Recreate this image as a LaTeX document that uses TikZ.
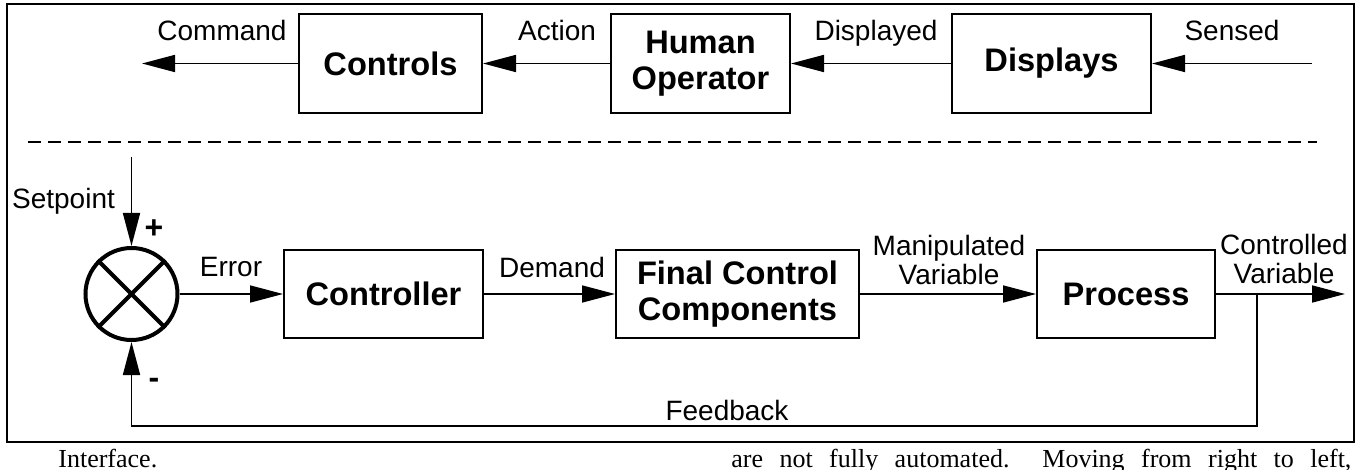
\documentclass[tikz,border=0pt]{standalone}
\usepackage{fontspec}
\setmainfont{Liberation Sans}
\newfontfamily\bodyserif{Liberation Serif}
\usetikzlibrary{arrows.meta}

\begin{document}
\begin{tikzpicture}[
  x=0.5pt, y=-0.5pt,
  blk/.style={draw, line width=1pt, align=center, inner sep=0pt,
              font=\fontsize{16.3}{18}\selectfont\bfseries},
  lbl/.style={font=\fontsize{14}{14.5}\selectfont, align=center, anchor=base, inner sep=0pt},
  sgn/.style={font=\fontsize{16}{16}\selectfont\bfseries, inner sep=0pt},
  arr/.style={line width=0.85pt, -{Triangle[length=16.5pt,width=8.5pt]}},
  sumjn/.style={draw, circle, line width=2pt, minimum size=46pt, inner sep=0pt},
  body/.style={font=\bodyserif\fontsize{13}{15}\selectfont, anchor=base west, inner sep=0pt}
]
\useasboundingbox (0,0) rectangle (1363,470);

% frame and divider
\draw[line width=1.3pt] (7,4) rectangle (1354,442);
\draw[line width=1pt, dash pattern=on 6.5pt off 3.5pt] (28,142) -- (1317,142);

% ---- human operator loop
\node[blk, minimum width=91.5pt, minimum height=49.5pt] (ctrls) at (390.5,63.5) {Controls};
\node[blk, minimum width=89.5pt, minimum height=49.5pt] (human) at (700.5,63.5) {Human\\Operator};
\node[blk, minimum width=99.5pt, minimum height=49.5pt] (disp) at (1051.5,63.5) {Displays};
\coordinate (cmdout) at (142,63.5);
\coordinate (sensin) at (1312,63.5);

\draw[arr] (sensin) -- (disp);
\draw[arr] (disp) -- (human);
\draw[arr] (human) -- (ctrls);
\draw[arr] (ctrls) -- (cmdout);

\node[lbl] at (222,41) {Command};
\node[lbl] at (557,41) {Action};
\node[lbl] at (876,41) {Displayed};
\node[lbl] at (1232,41) {Sensed};

% ---- control loop
\node[sumjn] (sum) at (131.5,294) {};
\draw[line width=2pt] (sum.45) -- (sum.225) (sum.135) -- (sum.315);
\node[blk, minimum width=99.5pt, minimum height=44pt] (ctrlr) at (383.5,294) {Controller};
\node[blk, minimum width=121.5pt, minimum height=44pt] (fcc) at (737.5,294) {Final Control\\Components};
\node[blk, minimum width=89pt, minimum height=44pt] (proc) at (1126,294) {Process};
\coordinate (setin) at (131.5,157);
\coordinate (out) at (1345,294);
\coordinate (tap) at (1257,294);
\coordinate (fb) at (1257,426);

\draw[arr] (setin) -- (sum);
\draw[arr] (sum) -- (ctrlr);
\draw[arr] (ctrlr) -- (fcc);
\draw[arr] (fcc) -- (proc);
\draw[arr] (proc) -- (out);
\draw[arr] (tap) -- (fb) -| (sum);

\node[lbl] at (63.5,208) {Setpoint};
\node[sgn] at (154,229) {+};
\node[sgn] at (154,383) {-};
\node[lbl] at (231,276) {Error};
\node[lbl] at (552,277) {Demand};
\node[lbl] at (949,284) {Manipulated\\Variable};
\node[lbl] at (1284,283) {Controlled\\Variable};
\node[lbl] at (727,420) {Feedback};

% ---- surrounding text
\node[body] (capl) at (58,467) {Interface.};
\node[body] (capr) at (731,467) {\makebox[310pt][s]{are not fully automated.\ \ Moving from right to left,}};
\end{tikzpicture}
\end{document}
